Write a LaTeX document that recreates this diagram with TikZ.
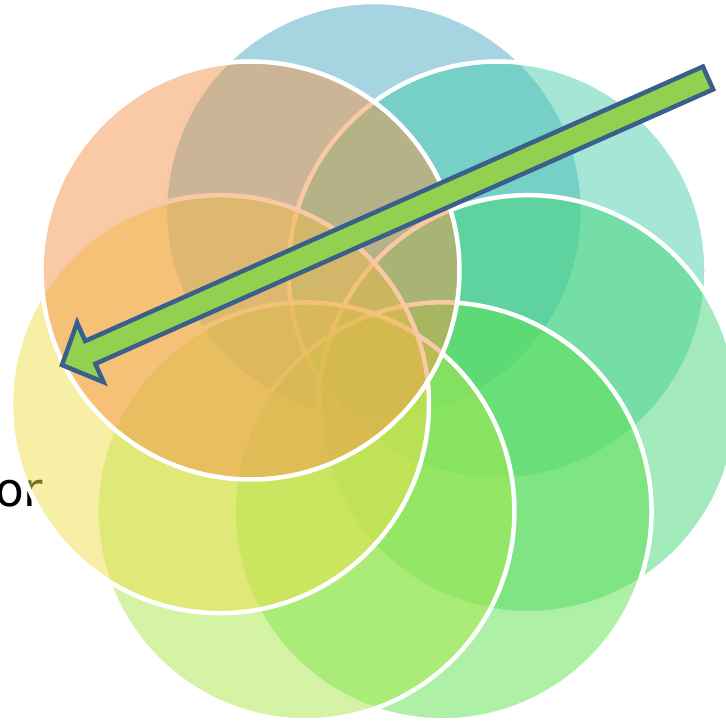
\documentclass[tikz,border=0pt]{standalone}
\usepackage{fontspec}
\setmainfont{DejaVu Sans}
\definecolor{petalA}{RGB}{77,171,195}
\definecolor{petalB}{RGB}{75,205,173}
\definecolor{petalC}{RGB}{71,215,121}
\definecolor{petalD}{RGB}{93,225,77}
\definecolor{petalE}{RGB}{169,231,75}
\definecolor{petalF}{RGB}{237,223,75}
\definecolor{petalG}{RGB}{243,149,75}
\definecolor{arrowfill}{HTML}{92D050}
\definecolor{arrowline}{HTML}{3A5F8B}
\tikzset{
  petal/.style={fill=#1, fill opacity=0.5, draw=white, line width=4.5pt},
  bigarrow/.style={fill=arrowfill, draw=arrowline, line width=4.5pt, line join=miter}
}
\begin{document}
\begin{tikzpicture}[x=1pt, y=-1pt]
  \useasboundingbox (0,0) rectangle (726,723);
  \node[anchor=base west, inner sep=0pt, font=\fontsize{47}{50}\selectfont] (word) at (-5,506) {or};
  \coordinate (hub) at (374,369);
  \foreach \c [count=\k from 0] in {petalA,petalB,petalC,petalD,petalE,petalF,petalG}
    \draw[petal=\c] (hub) ++({-90+\k*360/7}:158) circle (209pt);
  \coordinate (tip) at (62,365);
  \draw[bigarrow] (tip) -- (77.1,322.7) -- (85.2,341.0) -- (702.9,66.6)
    -- (713.1,89.4) -- (95.4,363.8) -- (103.5,382.1) -- cycle;
\end{tikzpicture}
\end{document}
